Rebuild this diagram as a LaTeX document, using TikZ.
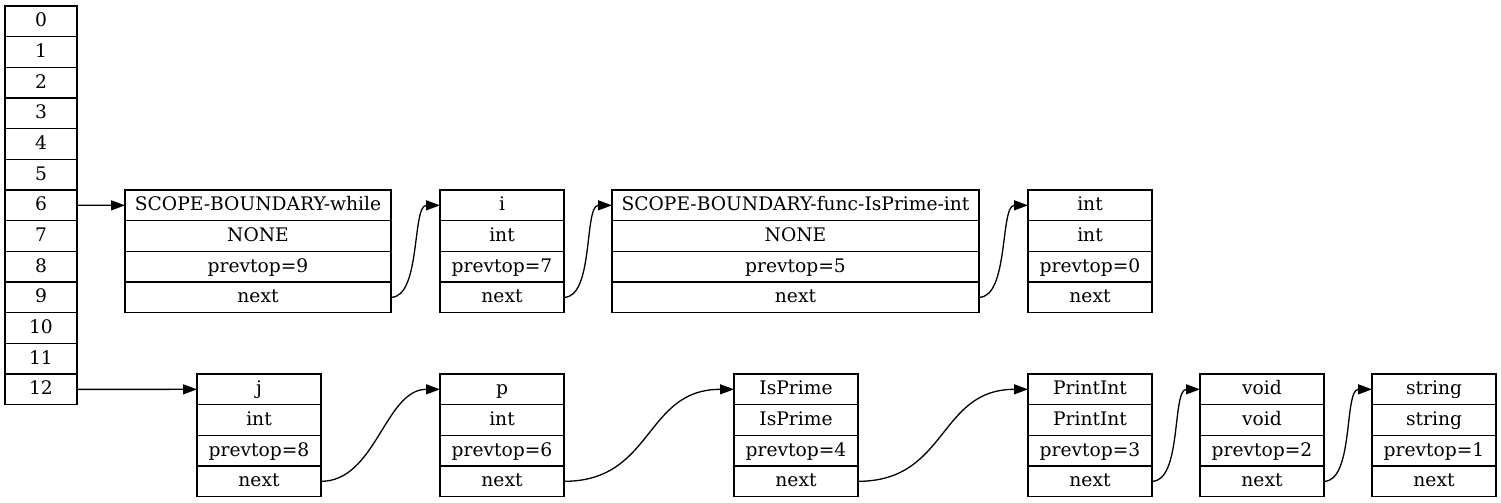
\documentclass[tikz,border=0pt]{standalone}
\usepackage{fontspec}
\setmainfont{DejaVu Serif}
\usetikzlibrary{arrows.meta}
% one symbol record: name, left x, top y, width, four fields
\newcommand{\symrec}[8]{
  \node[field, minimum width=#4pt] (#1a) at ({#2+#4/2},{#3+15.33}) {#5};
  \node[field, minimum width=#4pt] (#1b) at ({#2+#4/2},{#3+46}) {#6};
  \node[field, minimum width=#4pt] (#1c) at ({#2+#4/2},{#3+76.67}) {#7};
  \node[field, minimum width=#4pt] (#1d) at ({#2+#4/2},{#3+107.33}) {#8};
}
\begin{document}
\begin{tikzpicture}[x=1pt,y=-1pt,
    field/.style={draw, line width=1.3pt, minimum height=30.67pt, inner sep=0pt, outer sep=0pt,
      text height=14.6pt, text depth=3.8pt, font=\fontsize{18.67}{20}\selectfont},
    link/.style={line width=1.3pt, -{Triangle[length=14pt,width=10pt]}}]
      \useasboundingbox (0,0) rectangle (1501,503);
      % the stack
      \foreach \i in {0,...,12}
        \node[field, minimum width=72pt] (s\i) at (41,{21.33+30.67*\i}) {\i};
      % records
      \symrec{w}{125}{190}{266}{SCOPE-BOUNDARY-while}{NONE}{prevtop=9}{next}
      \symrec{i}{440}{190}{124}{i}{int}{prevtop=7}{next}
      \symrec{f}{612}{190}{367}{SCOPE-BOUNDARY-func-IsPrime-int}{NONE}{prevtop=5}{next}
      \symrec{t}{1028}{190}{124}{int}{int}{prevtop=0}{next}
      \symrec{j}{197}{374}{124}{j}{int}{prevtop=8}{next}
      \symrec{p}{440}{374}{124}{p}{int}{prevtop=6}{next}
      \symrec{ip}{734}{374}{124}{IsPrime}{IsPrime}{prevtop=4}{next}
      \symrec{pi}{1028}{374}{124}{PrintInt}{PrintInt}{prevtop=3}{next}
      \symrec{v}{1200}{374}{124}{void}{void}{prevtop=2}{next}
      \symrec{st}{1372}{374}{124}{string}{string}{prevtop=1}{next}
      % links
      \draw[link] (s6) -- (wa);
      \draw[link] (s12) -- (ja);
      \draw[link] (wd.east) .. controls +(30,0) and +(-28,0) .. (ia.west);
      \draw[link] (id.east) .. controls +(30,0) and +(-28,0) .. (fa.west);
      \draw[link] (fd.east) .. controls +(30,0) and +(-28,0) .. (ta.west);
      \draw[link] (jd.east) .. controls +(55,0) and +(-55,0) .. (pa.west);
      \draw[link] (pd.east) .. controls +(90,0) and +(-90,0) .. (ipa.west);
      \draw[link] (ipd.east) .. controls +(90,0) and +(-90,0) .. (pia.west);
      \draw[link] (pid.east) .. controls +(30,0) and +(-28,0) .. (va.west);
      \draw[link] (vd.east) .. controls +(30,0) and +(-28,0) .. (sta.west);
    \end{tikzpicture}
\end{document}
